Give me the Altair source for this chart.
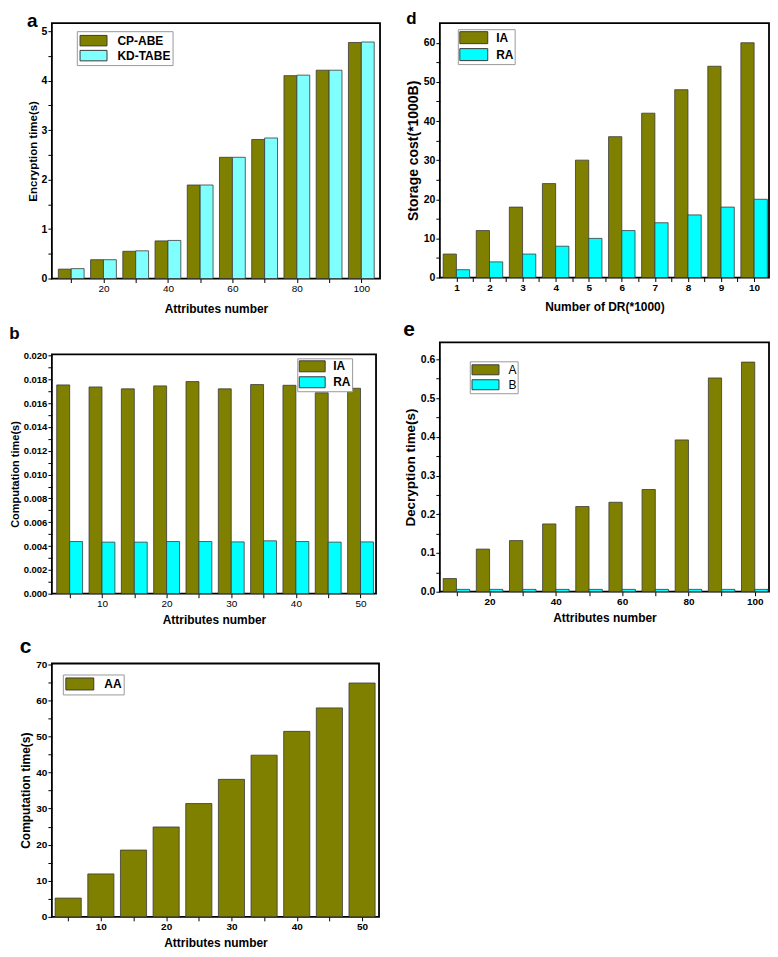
import json
import altair as alt
import pandas as pd

FONT = "Liberation Sans"
OLIVE = "#808000"
CYAN = "#00FFFF"
LIGHT_CYAN = "#80FFFF"
EDGE = "#3a3a3a"

# ---- panel a ----
a_attr = [10, 20, 30, 40, 50, 60, 70, 80, 90, 100]
a_cpabe = [0.19, 0.38, 0.55, 0.76, 1.89, 2.45, 2.81, 4.10, 4.21, 4.77]
a_kdtabe = [0.20, 0.38, 0.56, 0.77, 1.89, 2.45, 2.84, 4.11, 4.21, 4.78]

# ---- panel b ----
b_attr = [5, 10, 15, 20, 25, 30, 35, 40, 45, 50]
b_ia = [0.01753, 0.01736, 0.01720, 0.01745, 0.01781, 0.01720, 0.01756, 0.01750, 0.01687, 0.01725]
b_ra = [0.00438, 0.00433, 0.00433, 0.00438, 0.00438, 0.00435, 0.00444, 0.00438, 0.00433, 0.00435]

# ---- panel c ----
c_attr = [5, 10, 15, 20, 25, 30, 35, 40, 45, 50]
c_aa = [5.2, 11.9, 18.5, 24.9, 31.4, 38.1, 44.8, 51.4, 57.9, 64.8]

# ---- panel d ----
d_dr = [1, 2, 3, 4, 5, 6, 7, 8, 9, 10]
d_ia = [6, 12, 18, 24, 30, 36, 42, 48, 54, 60]
d_ra = [2, 4, 6, 8, 10, 12, 14, 16, 18, 20]

# ---- panel e ----
e_attr = [10, 20, 30, 40, 50, 60, 70, 80, 90, 100]
e_a = [0.034, 0.110, 0.132, 0.175, 0.220, 0.231, 0.264, 0.392, 0.552, 0.593]
e_b = [0.006, 0.006, 0.006, 0.006, 0.006, 0.006, 0.006, 0.006, 0.006, 0.006]


def long_df(xs, series):
    rows = []
    for name, vals, lo, hi in series:
        for x, v in zip(xs, vals):
            rows.append({"s": name, "x": x, "x0": x + lo, "x1": x + hi, "v": v})
    return pd.DataFrame(rows)


def tick_axis(major, minor, fmt, **kw):
    allv = sorted(set(major) | set(minor))
    test = "indexof(%s, datum.value) >= 0" % json.dumps(major)
    return alt.Axis(
        values=allv,
        labelExpr="(%s) ? format(datum.value, '%s') : ''" % (test, fmt),
        tickSize=4,
        tickColor="black", tickWidth=1, domain=False, grid=False,
        labelFont=FONT, labelColor="black", labelPadding=1, labelFlush=False,
        labelOverlap=False,
        titleFont=FONT, titleColor="black", titleFontWeight="bold",
        **kw,
    )


def steps(start, stop, step, nd=4):
    out = []
    k = 0
    while True:
        v = round(start + k * step, nd)
        if v > stop + 1e-9:
            break
        out.append(v)
        k += 1
    return out


def indep(c):
    return c.resolve_scale(fill="independent").resolve_legend(fill="independent")


def panel(df, dom, rng, xdom, ydom, xmaj, xmin, xfmt, ymaj, ymin, yfmt, w, h,
          label, label_size, xtitle, ytitle, ytitle_size, xlab_weight, ylab_size,
          leg_x, leg_y, leg_weight, sym_w, sym_h, title_offset,
          xtitle_pad=6, leg_gap=4, leg_pad=2):
    xaxis = tick_axis(xmaj, xmin, xfmt, title=xtitle, titleFontSize=12,
                      titlePadding=xtitle_pad, labelFontWeight=xlab_weight, labelFontSize=10)
    yaxis = tick_axis(ymaj, ymin, yfmt, title=ytitle, titleFontSize=ytitle_size,
                      titlePadding=3, labelFontWeight="bold", labelFontSize=ylab_size)
    r = sym_w / 4.0
    hy = sym_h / (2.0 * r)
    path = "M-2,-%.3fL2,-%.3fL2,%.3fL-2,%.3fZ" % (hy, hy, hy, hy)
    size_px = 2 * r
    legend = alt.Legend(
        orient="none", legendX=leg_x, legendY=leg_y, title=None,
        symbolType=path, symbolSize=size_px * size_px,
        symbolStrokeColor=EDGE, symbolStrokeWidth=1, symbolOpacity=1,
        symbolOffset=r * 2 - (size_px + 1) / 2.0 + 1,
        labelOffset=sym_w + leg_gap - (size_px + 1),
        labelFont=FONT, labelFontSize=12, labelFontWeight=leg_weight,
        labelColor="black", rowPadding=0, padding=leg_pad,
        strokeColor="#9a9a9a", fillColor="white",
    )
    return alt.Chart(df).mark_bar(stroke=EDGE, strokeWidth=0.8).encode(
        x=alt.X("x0:Q", scale=alt.Scale(domain=xdom, nice=False, zero=False), axis=xaxis),
        x2="x1:Q",
        y=alt.Y("v:Q", scale=alt.Scale(domain=ydom, nice=False), axis=yaxis),
        y2=alt.datum(0),
        fill=alt.Fill("s:N", scale=alt.Scale(domain=dom, range=rng), legend=legend),
    ).properties(
        width=w, height=h,
        title=alt.TitleParams(label, anchor="start", frame="bounds", fontSize=label_size,
                              fontWeight="bold", font=FONT, color="black",
                              offset=title_offset),
    )


da = long_df(a_attr, [("CP-ABE", a_cpabe, -4, 0), ("KD-TABE", a_kdtabe, 0, 4)])
db = long_df(b_attr, [("IA", b_ia, -2, 0), ("RA", b_ra, 0, 2)])
dc = long_df(c_attr, [("AA", c_aa, -2, 2)])
dd = long_df(d_dr, [("IA", d_ia, -0.4, 0), ("RA", d_ra, 0, 0.4)])
de = long_df(e_attr, [("A", e_a, -4, 0), ("B", e_b, 0, 4)])

pa = panel(da, ["CP-ABE", "KD-TABE"], [OLIVE, LIGHT_CYAN], [4, 105.8], [0, 5.16],
           steps(20, 100, 20), steps(10, 90, 20), "d",
           steps(0, 5, 1), steps(0.5, 4.5, 1), "d", 329, 256,
           "a", 19, "Attributes number", "Encryption time(s)", 11.5, "normal", 10.5,
           25, 8, "bold", 27, 10.5, -8, xtitle_pad=10)

pb = panel(db, ["IA", "RA"], [OLIVE, CYAN], [2.25, 52.4], [0, 0.0201],
           steps(10, 50, 10), steps(5, 45, 10), "d",
           steps(0, 0.02, 0.002), steps(0.001, 0.019, 0.002), ".3f", 325, 240,
           "b", 17, "Attributes number", "Computation time(s)", 11, "normal", 9.5,
           246, 4, "bold", 26, 11, 8, leg_gap=2, leg_pad=1)

pc = panel(dc, ["AA"], [OLIVE], [2.5, 52.6], [0, 70.2],
           steps(10, 50, 10), steps(5, 45, 10), "d",
           steps(0, 70, 10), steps(5, 65, 10), "d", 328, 254,
           "c", 21, "Attributes number", "Computation time(s)", 12, "bold", 10,
           11, 11, "bold", 28, 12, 2)

pd_ = panel(dd, ["IA", "RA"], [OLIVE, CYAN], [0.5, 10.45], [0, 65],
            steps(1, 10, 1), steps(1.5, 9.5, 1), "d",
            steps(0, 60, 10), steps(5, 55, 10), "d", 330, 255,
            "d", 17, "Number of DR(*1000)", "Storage cost(*1000B)", 14, "bold", 10.5,
            18, 6, "bold", 28, 12, -5, xtitle_pad=9, leg_gap=2, leg_pad=1)

pe = panel(de, ["A", "B"], [OLIVE, CYAN], [5, 104.3], [0, 0.644],
           steps(20, 100, 20), steps(10, 90, 20), "d",
           steps(0, 0.6, 0.1, 2), steps(0.05, 0.55, 0.1, 2), ".1f", 330, 250,
           "e", 21, "Attributes number", "Decryption time(s)", 13.5, "bold", 10.5,
           30, 19, "normal", 27, 10, 2, leg_gap=3, leg_pad=1)

left = indep(alt.vconcat(pa, pb, pc, spacing=8))
right = indep(alt.vconcat(pd_, pe, spacing=5))

chart = indep(alt.hconcat(left, right, spacing=21)).properties(
    padding={"left": 0, "top": 0, "right": 0, "bottom": 0},
    background="white",
).configure_view(stroke="black", strokeWidth=1.8)

chart.save("out.html", embed_options={"renderer": "svg", "actions": False})
